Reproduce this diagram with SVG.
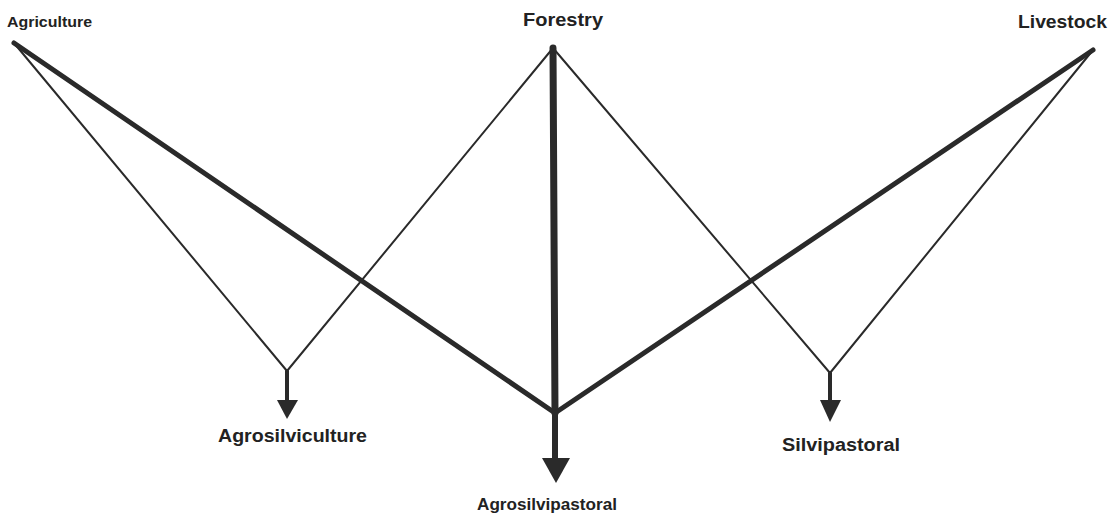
<svg xmlns="http://www.w3.org/2000/svg" width="1114" height="514" viewBox="0 0 1114 514">
<style>
.lbl{font-family:"Liberation Sans","DejaVu Sans",sans-serif;fill:#222;font-weight:bold}
.thin{stroke:#2a2a2a;stroke-width:2;fill:none;stroke-linecap:round}
.thick{stroke:#2a2a2a;stroke-width:5;fill:none;stroke-linecap:round}
.head{fill:#2a2a2a}
</style>
<rect width="1114" height="514" fill="#fff"/>
<g id="connectors">
<line class="thin" x1="14" y1="43" x2="287" y2="371"/>
<line class="thin" x1="553" y1="48" x2="287" y2="371"/>
<line class="thin" x1="553" y1="48" x2="830" y2="373"/>
<line class="thin" x1="1093" y1="50" x2="830" y2="373"/>
<line class="thick" x1="14" y1="43" x2="555" y2="413"/>
<line class="thick" x1="1093" y1="50" x2="555" y2="413"/>
<line class="thick" x1="553" y1="48" x2="555" y2="413" style="stroke-width:7"/>
<line class="thick" x1="287" y1="371" x2="287" y2="402" style="stroke-width:4"/>
<polygon class="head" points="277,400 298,400 287,419"/>
<line class="thick" x1="555" y1="413" x2="555" y2="460" style="stroke-width:6"/>
<polygon class="head" points="542,458 570,458 556,483"/>
<line class="thick" x1="830" y1="373" x2="830" y2="402" style="stroke-width:4"/>
<polygon class="head" points="820,400 841,400 830,422"/>
</g>
<g id="agriculture"><text class="lbl" x="7" y="27" font-size="14" textLength="85" lengthAdjust="spacingAndGlyphs">Agriculture</text></g>
<g id="forestry"><text class="lbl" x="523" y="26" font-size="19" textLength="80" lengthAdjust="spacingAndGlyphs">Forestry</text></g>
<g id="livestock"><text class="lbl" x="1018" y="28" font-size="19" textLength="89" lengthAdjust="spacingAndGlyphs">Livestock</text></g>
<g id="agrosilviculture"><text class="lbl" x="218" y="442" font-size="18" textLength="149" lengthAdjust="spacingAndGlyphs">Agrosilviculture</text></g>
<g id="agrosilvipastoral"><text class="lbl" x="477" y="510" font-size="17" textLength="140" lengthAdjust="spacingAndGlyphs">Agrosilvipastoral</text></g>
<g id="silvipastoral"><text class="lbl" x="782" y="451" font-size="18" textLength="118" lengthAdjust="spacingAndGlyphs">Silvipastoral</text></g>
</svg>
